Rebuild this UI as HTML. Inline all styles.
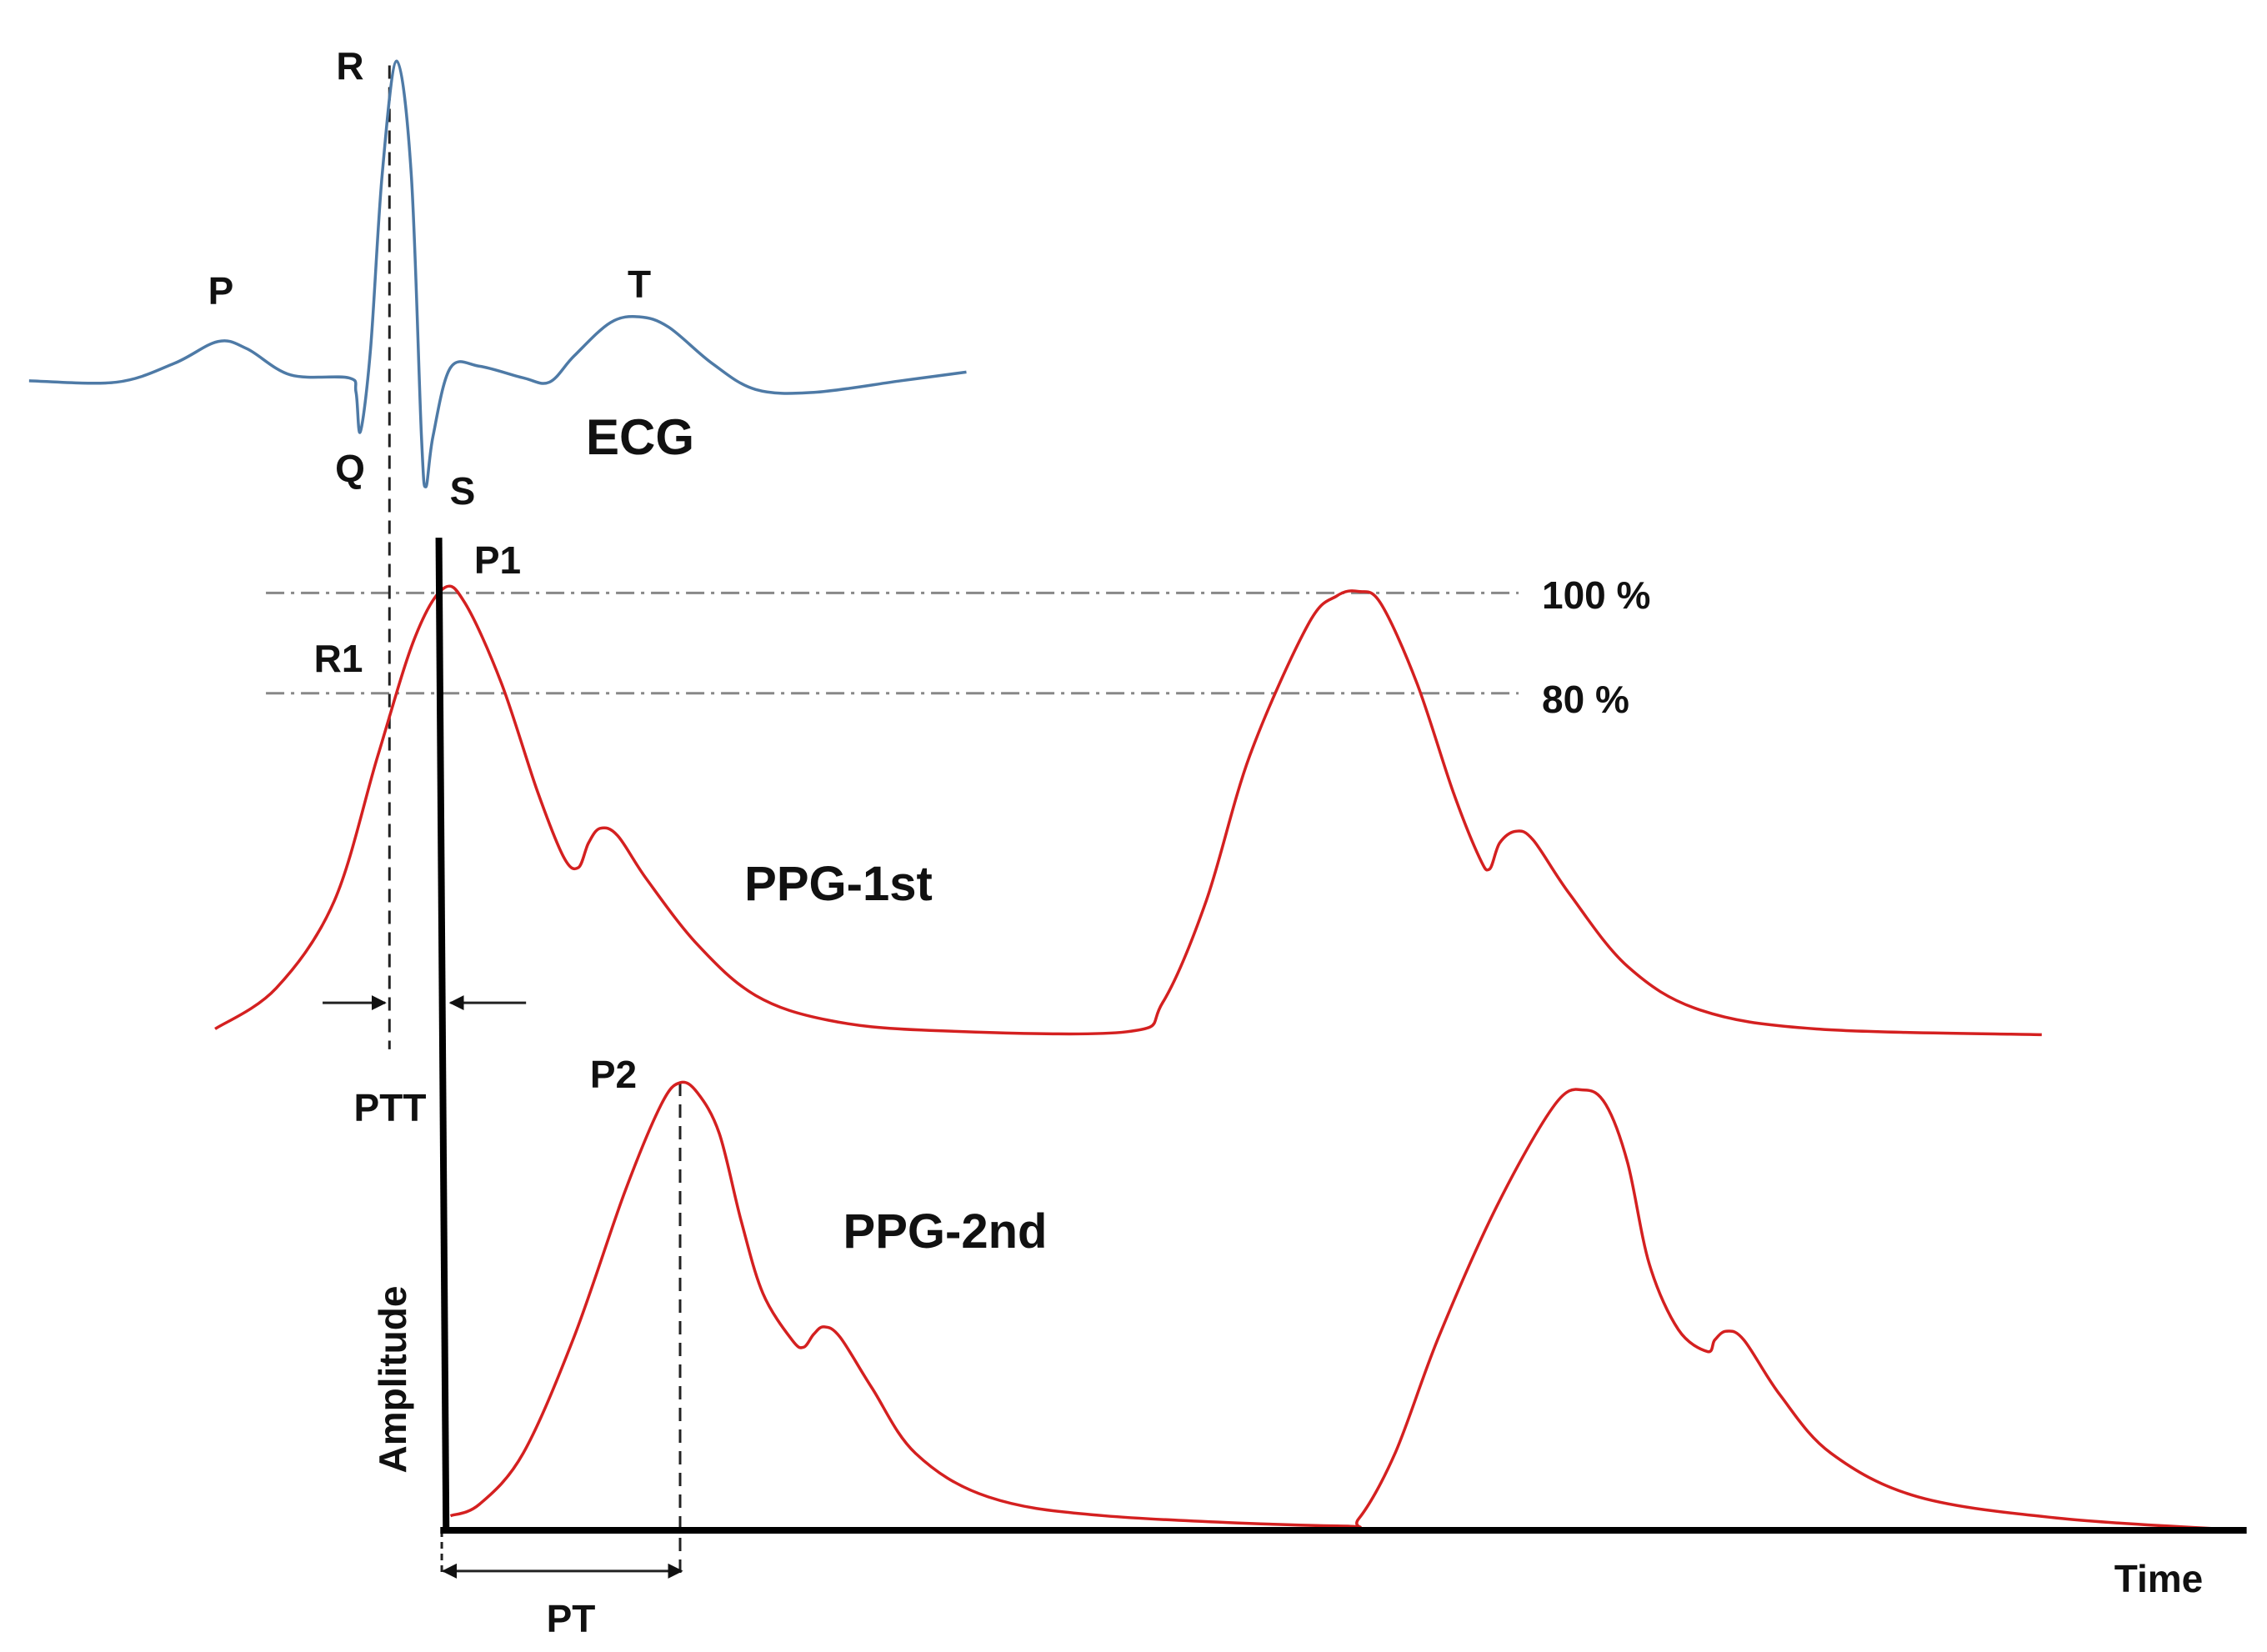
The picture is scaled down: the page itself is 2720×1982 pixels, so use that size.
<!DOCTYPE html>
<html><head><meta charset="utf-8"><style>
html,body{margin:0;padding:0;background:#fff}
svg{display:block}
text{font-family:"Liberation Sans",sans-serif;font-weight:bold;fill:#111}
</style></head><body>
<svg id="chart" width="2720" height="1982" viewBox="0 0 2720 1982" xmlns="http://www.w3.org/2000/svg">
<defs>
<marker id="ah" viewBox="0 0 10 10" refX="9" refY="5" markerWidth="6" markerHeight="6" orient="auto-start-reverse"><path d="M0,0 L10,5 L0,10 z" fill="#111"/></marker>
</defs>
<g id="marks"></g>
<g id="labels">
<text x="420" y="95" font-size="46" text-anchor="middle">R</text>
<text x="265" y="365" font-size="46" text-anchor="middle">P</text>
<text x="767" y="357" font-size="46" text-anchor="middle">T</text>
<text x="420" y="578" font-size="46" text-anchor="middle">Q</text>
<text x="555" y="605" font-size="46" text-anchor="middle">S</text>
<text x="768" y="545" font-size="60" text-anchor="middle">ECG</text>
<text x="597" y="688" font-size="46" text-anchor="middle">P1</text>
<text x="406" y="806" font-size="46" text-anchor="middle">R1</text>
<text x="468" y="1345" font-size="46" text-anchor="middle">PTT</text>
<text x="736" y="1305" font-size="46" text-anchor="middle">P2</text>
<text x="1006" y="1080" font-size="58" text-anchor="middle">PPG-1st</text>
<text x="1134" y="1497" font-size="58" text-anchor="middle">PPG-2nd</text>
<text x="685" y="1958" font-size="46" text-anchor="middle">PT</text>
<text x="1850" y="730" font-size="46">100 %</text>
<text x="1850" y="855" font-size="46">80 %</text>
<text x="2590" y="1910" font-size="46" text-anchor="middle">Time</text>
<text x="0" y="0" font-size="46" text-anchor="middle" transform="translate(487,1655) rotate(-90)">Amplitude</text>
</g>
</svg>
<script>
// Series in display units (time, level), mapped through scale functions
const ecgT=[20,80,120,150,170,200,240,245,248,255,263,273,283,290,293,298,310,330,360,378,395,420,440,460,490,520,560,620,665];
const ecgV=[262,263,250,235,240,258,260,270,297,240,120,42,120,300,335,300,253,252,260,263,245,222,218,225,250,268,270,262,256];
const ppg1T=[148,190,230,260,285,305,320,345,370,388,398,405,413,425,445,480,520,570,640,775,800,830,860,900,920,935,950,975,1000,1018,1025,1032,1043,1055,1080,1120,1170,1250,1405];
const ppg1V=[708,680,620,520,440,405,415,470,545,590,597,580,570,575,605,650,685,702,709,710,690,620,520,430,410,407,415,470,545,590,598,580,572,578,615,665,695,708,712];
const ppg2T=[310,330,360,395,430,455,468,480,495,510,525,545,553,560,567,578,600,630,680,760,920,935,960,990,1030,1070,1090,1105,1120,1135,1155,1175,1180,1188,1200,1225,1260,1320,1420,1545];
const ppg2V=[1043,1035,1000,920,820,760,745,752,780,840,890,922,927,918,913,920,955,1000,1030,1043,1050,1045,1000,920,830,760,750,760,800,870,915,930,922,916,922,960,1000,1030,1045,1053];
const refLevels=[408,477];
const K=2720/1560;
function xs(t){return t*K;}
function ys(v){return v*K;}
const NS='http://www.w3.org/2000/svg';
const g=document.getElementById('marks');
function smooth(T,V){
  const p=T.map((t,i)=>[xs(t),ys(V[i])]);
  let d='M'+p[0][0]+','+p[0][1];
  for(let i=0;i<p.length-1;i++){
    const p0=p[i-1]||p[i],p1=p[i],p2=p[i+1],p3=p[i+2]||p2;
    const c1=[p1[0]+(p2[0]-p0[0])/6,p1[1]+(p2[1]-p0[1])/6];
    const c2=[p2[0]-(p3[0]-p1[0])/6,p2[1]-(p3[1]-p1[1])/6];
    d+=' C'+c1[0]+','+c1[1]+' '+c2[0]+','+c2[1]+' '+p2[0]+','+p2[1];
  }
  return d;
}
function line(x1,y1,x2,y2,stroke,w,dash){
  const l=document.createElementNS(NS,'line');
  l.setAttribute('x1',x1);l.setAttribute('y1',y1);l.setAttribute('x2',x2);l.setAttribute('y2',y2);
  l.setAttribute('stroke',stroke);l.setAttribute('stroke-width',w);
  if(dash)l.setAttribute('stroke-dasharray',dash);
  g.appendChild(l);return l;
}
// reference lines
refLevels.forEach((lv,i)=>{
  const l=line(xs(183),ys(lv),xs(1045),ys(lv),'#888',3,'22,8,4,8');
  
  
});
// dashed verticals
let dv=line(xs(268),ys(45),xs(268),ys(722),'#222',3,'16,10');


dv=line(xs(468),ys(745),xs(468),ys(1088),'#222',3,'16,10');


dv=line(xs(304),ys(1053),xs(304),ys(1085),'#222',3,'8,6');


// series
[[ecgT,ecgV,'#4e7aa6','ecg-line'],[ppg1T,ppg1V,'#d42020','ppg-1st-line'],[ppg2T,ppg2V,'#d42020','ppg-2nd-line']].forEach(s=>{
  const p=document.createElementNS(NS,'path');
  p.setAttribute('d',smooth(s[0],s[1]));
  p.setAttribute('fill','none');p.setAttribute('stroke',s[2]);p.setAttribute('stroke-width',3.5);
  
  
  g.appendChild(p);
});
// axes
let ax=line(xs(302),ys(370),xs(307),ys(1055),'#000',8);


ax=line(xs(303),ys(1053),xs(1546),ys(1053),'#000',8);


// arrows
let ar=line(xs(222),ys(690),xs(265),ys(690),'#222',3);
ar.setAttribute('marker-end','url(#ah)');


ar=line(xs(362),ys(690),xs(310),ys(690),'#222',3);
ar.setAttribute('marker-end','url(#ah)');


ar=line(xs(305),ys(1081),xs(469),ys(1081),'#222',3);
ar.setAttribute('marker-end','url(#ah)');
ar.setAttribute('marker-start','url(#ah)');


</script>
</body></html>
